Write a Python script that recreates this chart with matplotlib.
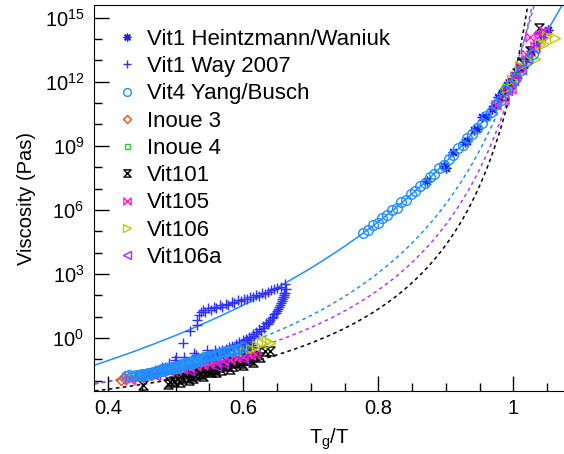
import numpy as np
import matplotlib
matplotlib.use("Agg")
import matplotlib.pyplot as plt
from matplotlib.path import Path
from matplotlib.ticker import MultipleLocator, FuncFormatter, NullFormatter

plt.rcParams['font.family'] = ['Liberation Sans', 'DejaVu Sans']
plt.rcParams['mathtext.fontset'] = 'custom'
plt.rcParams['mathtext.rm'] = 'Liberation Sans'
plt.rcParams['mathtext.it'] = 'Liberation Sans:italic'
plt.rcParams['mathtext.default'] = 'regular'

# --- data: x = Tg/T, y = log10(viscosity / Pa s) ---
vit1_h_x = [0.598, 0.605, 0.612,
            0.872, 0.897, 0.900, 0.911, 0.929, 0.932, 0.941, 0.946, 0.954, 0.959,
            0.968, 0.972, 0.978, 0.985, 0.991, 0.997, 1.003, 1.010, 1.018, 1.026,
            1.034, 1.043, 1.051]
vit1_h_y = [-0.55, -0.42, -0.35,
            7.34, 8.04, 7.97, 8.72, 9.18, 9.22, 9.72, 9.77, 10.36, 10.33,
            10.72, 10.85, 11.30, 11.50, 11.85, 12.05, 12.30, 12.65, 13.05, 13.45,
            13.80, 14.10, 14.45]

# Way 2007: scattered low points, upper branch, lower branch
vit1_w_x = [0.470, 0.480, 0.490, 0.499, 0.500, 0.511, 0.512, 0.521, 0.527, 0.530, 0.546, 0.558,
            0.531, 0.532, 0.534, 0.537, 0.540, 0.544, 0.548, 0.552, 0.556, 0.560, 0.565,
            0.569, 0.574, 0.578, 0.583, 0.587, 0.592, 0.596, 0.601, 0.605, 0.610, 0.614,
            0.619, 0.623, 0.628, 0.632, 0.637, 0.641, 0.646, 0.650, 0.656, 0.662, 0.663,
            0.662, 0.661,
            0.540, 0.543, 0.546, 0.549, 0.551, 0.554, 0.556, 0.559, 0.561, 0.564, 0.566,
            0.569, 0.571, 0.574, 0.576, 0.579, 0.581, 0.584, 0.586, 0.589, 0.591, 0.594,
            0.596, 0.599, 0.601, 0.604, 0.606, 0.609, 0.611, 0.614, 0.616, 0.619, 0.621,
            0.624, 0.626, 0.629, 0.631, 0.634, 0.636, 0.638, 0.640, 0.642, 0.644, 0.646,
            0.648, 0.650, 0.651, 0.653, 0.654, 0.656, 0.657, 0.658, 0.659, 0.660, 0.661]
vit1_w_y = [-1.50, -1.35, -1.20, -1.03, -0.88, -0.25, -0.90, 0.30, -0.72, -0.80, -0.56, -0.56,
            0.62, 0.85, 1.05, 1.20, 1.32, 1.22, 1.38, 1.30, 1.45, 1.40, 1.52,
            1.47, 1.60, 1.56, 1.68, 1.64, 1.76, 1.72, 1.84, 1.80, 1.92, 1.90,
            2.00, 1.97, 2.08, 2.06, 2.17, 2.22, 2.28, 2.32, 2.40, 2.52, 2.30,
            2.10, 1.92,
            -1.08, -0.96, -0.98, -0.86, -0.88, -0.76, -0.82, -0.70, -0.75, -0.63, -0.69,
            -0.56, -0.63, -0.50, -0.58, -0.44, -0.52, -0.36, -0.44, -0.28, -0.37, -0.20,
            -0.29, -0.12, -0.21, -0.04, -0.12, 0.06, -0.02, 0.16, 0.08, 0.28, 0.20,
            0.40, 0.32, 0.55, 0.47, 0.70, 0.64, 0.76, 0.82, 0.92, 1.00, 1.10,
            1.18, 1.28, 1.36, 1.46, 1.55, 1.65, 1.73, 1.82, 1.90, 2.00, 2.08]

vit4_x = [0.426, 0.431, 0.436, 0.441, 0.446, 0.450, 0.455, 0.459, 0.463, 0.467, 0.470,
          0.474, 0.477, 0.480, 0.483, 0.487, 0.490, 0.494, 0.497, 0.500, 0.503, 0.507,
          0.510, 0.514, 0.517, 0.521, 0.524, 0.528, 0.531, 0.535, 0.538, 0.542, 0.545,
          0.549, 0.552, 0.556, 0.559, 0.563, 0.566, 0.570, 0.573, 0.577, 0.580, 0.584,
          0.587, 0.591, 0.594, 0.600,
          0.448, 0.457, 0.465, 0.472, 0.479, 0.485, 0.492, 0.499, 0.505, 0.512, 0.519,
          0.526, 0.533, 0.540,
          0.778, 0.785, 0.792, 0.799, 0.806, 0.813, 0.820, 0.827, 0.834, 0.841, 0.848,
          0.855, 0.862, 0.869, 0.876, 0.883, 0.890, 0.897, 0.904, 0.911, 0.918, 0.925,
          0.932, 0.939, 0.946, 0.953, 0.960, 0.967, 0.974, 0.981, 0.988, 0.996, 1.004,
          1.012, 1.020, 1.029]
vit4_y = [-1.81, -1.76, -1.78, -1.73, -1.74, -1.68, -1.70, -1.64, -1.66, -1.58, -1.58,
          -1.54, -1.52, -1.46, -1.48, -1.40, -1.42, -1.37, -1.36, -1.30, -1.30, -1.25,
          -1.24, -1.20, -1.18, -1.12, -1.10, -1.06, -1.04, -0.98, -0.97, -0.92, -0.91,
          -0.86, -0.85, -0.80, -0.78, -0.74, -0.72, -0.68, -0.66, -0.62, -0.60, -0.56,
          -0.55, -0.51, -0.50, -0.45,
          -1.80, -1.75, -1.68, -1.62, -1.56, -1.52, -1.46, -1.40, -1.35, -1.29, -1.22,
          -1.16, -1.09, -1.02,
          4.91, 5.05, 5.28, 5.40, 5.62, 5.75, 5.98, 6.10, 6.35, 6.48, 6.72,
          6.86, 7.12, 7.26, 7.52, 7.68, 7.96, 8.12, 8.40, 8.57, 8.88, 9.04,
          9.35, 9.55, 9.85, 10.05, 10.38, 10.60, 10.95, 11.17, 11.60, 11.85, 12.20,
          12.55, 12.97, 13.30]

inoue3_x = [0.419, 0.424, 0.431, 0.437, 0.992, 1.001]
inoue3_y = [-1.97, -1.90, -1.85, -1.80, 11.60, 12.05]

inoue4_x = [0.444, 0.450, 0.456, 0.462, 0.995, 1.006]
inoue4_y = [-1.75, -1.72, -1.69, -1.65, 11.80, 12.30]

vit101_x = [0.452, 0.488, 0.492, 0.498, 0.504, 0.510, 0.516, 0.522, 0.528, 0.534, 0.540,
            0.546, 0.552, 0.558, 0.564, 0.570, 0.576, 0.582, 0.588, 0.594, 0.600, 0.606,
            0.612, 0.618,
            0.515, 0.530, 0.545, 0.560, 0.575, 0.590, 0.605, 0.620, 0.632, 0.640,
            0.520, 0.540, 0.560, 0.580, 0.600, 0.615,
            0.507, 0.525, 0.537, 0.552, 0.567, 0.585, 0.597, 0.610, 0.625,
            0.985, 0.995, 1.005, 1.015, 1.025, 1.0375]
vit101_y = [-2.22, -2.15, -2.05, -2.00, -1.95, -1.90, -1.84, -1.78, -1.72, -1.66, -1.60,
            -1.55, -1.50, -1.44, -1.38, -1.32, -1.26, -1.20, -1.14, -1.08, -1.02, -0.96,
            -0.90, -0.84,
            -1.60, -1.50, -1.38, -1.25, -1.10, -0.95, -0.80, -0.66, -0.62, -0.60,
            -1.98, -1.80, -1.62, -1.45, -1.28, -1.15,
            -2.05, -1.90, -1.70, -1.58, -1.50, -1.30, -1.18, -1.02, -0.88,
            11.40, 11.90, 12.40, 12.90, 13.45, 14.54]

vit105_x = [0.433, 0.445, 0.457, 0.467, 0.478, 0.490, 0.500, 0.510, 0.520, 0.530, 0.540,
            0.550, 0.560, 0.570, 0.580, 0.590, 0.600, 0.610, 0.618,
            0.975, 0.986, 0.996, 1.003, 1.010, 1.018, 1.025, 1.032, 1.040, 1.045]
vit105_y = [-1.97, -1.88, -1.78, -1.70, -1.62, -1.55, -1.50, -1.45, -1.40, -1.34, -1.28,
            -1.22, -1.16, -1.10, -1.03, -0.96, -0.89, -0.82, -0.76,
            10.90, 11.17, 11.64, 12.27, 12.74, 13.30, 14.10, 13.70, 14.20, 14.40]

vit106_x = [0.603, 0.612, 0.620, 0.628, 0.635, 0.640,
            0.990, 0.998, 1.010, 1.0227, 1.0326, 1.040, 1.045, 1.050, 1.062]
vit106_y = [-0.64, -0.50, -0.40, -0.25, -0.17, -0.22,
            11.70, 12.10, 12.74, 12.97, 13.05, 13.76, 13.75, 14.15, 14.07]

vit106a_x = [0.470, 0.520, 0.560, 0.570, 0.600,
             0.990, 1.000, 1.012, 1.020, 1.030, 1.040]
vit106a_y = [-1.75, -1.50, -1.30, -1.20, -0.95,
             11.60, 12.10, 12.60, 13.10, 13.60, 14.30]

# VFT fits: log10(eta) = A + B / (T/Tg - T0/Tg)
fit_A = [-4.3, -3.8, -3.4, -3.5]
fit_B = [6.06, 2.961, 2.225, 1.762]
fit_T0 = [0.628, 0.8174, 0.8557, 0.8868]
fit_col = ['#1f8fff', '#1f8fff', '#b03cff', 'black']
fit_ls = ['-', '--', '--', '--']

hourglass = Path([(-1, 1), (1, 1), (-1, -1), (1, -1), (-1, 1)],
                 [Path.MOVETO, Path.LINETO, Path.LINETO, Path.LINETO, Path.CLOSEPOLY])
bowtie = Path([(-1, 1), (1, -1), (1, 1), (-1, -1), (-1, 1)],
              [Path.MOVETO, Path.LINETO, Path.LINETO, Path.LINETO, Path.CLOSEPOLY])

fig = plt.figure(figsize=(5.64, 4.54), dpi=100)
ax = fig.add_axes([94 / 564, 1 - 391 / 454, 1 - 94 / 564, (391 - 5) / 454])

xx = np.linspace(0.37, 1.08, 600)
for A, B, c, col, ls in zip(fit_A, fit_B, fit_T0, fit_col, fit_ls):
    line, = ax.plot(xx, 10.0 ** (A + B / (1 / xx - c)), color=col, lw=1.1, ls=ls, zorder=1)
    if ls == '--':
        line.set_dashes((2.4, 2.2))

# (x, y, marker, colour, size, label, zorder)
series = [
    (vit1_h_x, vit1_h_y, (8, 2, 0), '#2020ff', 7, 'Vit1 Heintzmann/Waniuk', 2),
    (vit1_w_x, vit1_w_y, '+', '#3030ff', 7, 'Vit1 Way 2007', 2),
    (vit4_x, vit4_y, 'o', '#1f8fff', 7, 'Vit4 Yang/Busch', 3),
    (inoue3_x, inoue3_y, 'D', '#ff4a10', 5.5, 'Inoue 3', 2),
    (inoue4_x, inoue4_y, 's', '#33c833', 4.5, 'Inoue 4', 2),
    (vit101_x, vit101_y, hourglass, 'black', 6.5, 'Vit101', 2),
    (vit105_x, vit105_y, bowtie, '#ff20c0', 6.5, 'Vit105', 2),
    (vit106_x, vit106_y, '>', '#bccc00', 7, 'Vit106', 2),
    (vit106a_x, vit106a_y, '<', '#b020ff', 7, 'Vit106a', 2),
]
for x, y, m, col, ms, lab, z in series:
    ax.plot(x, 10.0 ** np.array(y), ls='none', marker=m, ms=ms, mec=col,
            mfc='none', mew=1.0, label=lab, zorder=z)

ax.set_yscale('log')
ax.set_xlim(0.379, 1.075)
ax.set_ylim(10 ** -2.49, 10 ** 15.6)
ax.set_yticks([10.0 ** k for k in range(0, 16, 3)])
ax.set_yticks([10.0 ** k for k in range(-2, 16) if k % 3], minor=True)
ax.yaxis.set_minor_formatter(NullFormatter())
ax.xaxis.set_major_locator(MultipleLocator(0.2))
ax.xaxis.set_minor_locator(MultipleLocator(0.05))
ax.xaxis.set_major_formatter(FuncFormatter(lambda v, p: '%g' % round(v, 2)))

ax.tick_params(which='both', direction='in', top=False, right=False, labelsize=14.5)
ax.tick_params(which='major', length=11, width=1)
ax.tick_params(which='minor', length=6, width=1)
ax.tick_params(axis='y', pad=7)
ax.tick_params(axis='x', pad=6)
ax.spines['right'].set_visible(False)

ax.set_xlabel('T$_g$/T', fontsize=14.5, labelpad=6)
ax.set_ylabel('Viscosity (Pas)', fontsize=14.5, labelpad=6)

ax.legend(loc='upper left', bbox_to_anchor=(118 / 564, 1 - 29 / 454),
          bbox_transform=fig.transFigure, frameon=False, fontsize=16,
          numpoints=1, handlelength=0.8, handletextpad=0.5, labelspacing=0.28,
          borderpad=0, borderaxespad=0, markerscale=0.8)

fig.savefig('out.png', dpi=100)
